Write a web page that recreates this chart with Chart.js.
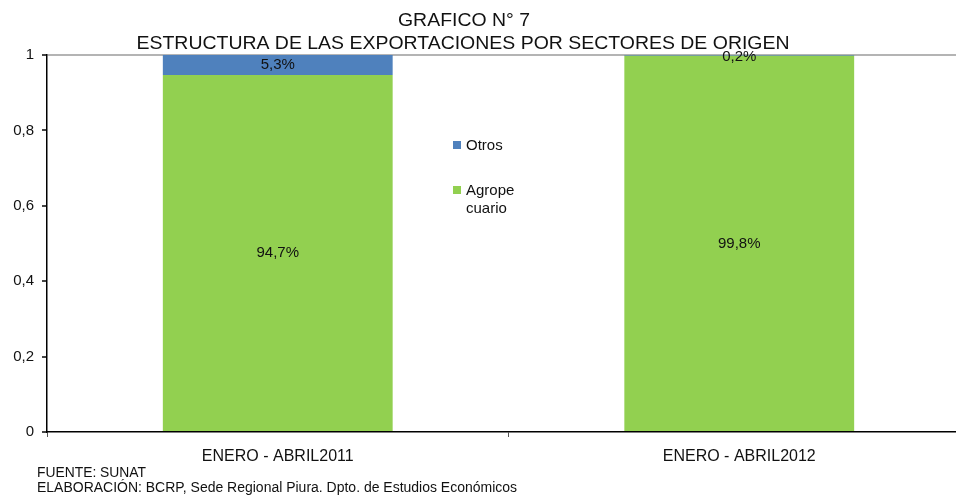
<!DOCTYPE html>
<html><head><meta charset="utf-8">
<script src="https://cdn.jsdelivr.net/npm/chart.js@4/dist/chart.umd.min.js"></script>
<style>html,body{margin:0;padding:0;background:#fff;overflow:hidden;width:956px;height:496px}#wrap{width:972px;height:496px;position:relative}</style>
</head><body><div id="wrap"><canvas id="c" width="972" height="496"></canvas></div>
<script>
const categories = ["ENERO - ABRIL2011", "ENERO - ABRIL2012"];
const agropecuario = [0.947, 0.998];
const otros = [0.053, 0.002];
const agroLabels = ["94,7%", "99,8%"];
const otrosLabels = ["5,3%", "0,2%"];
const yTicks = [0, 0.2, 0.4, 0.6, 0.8, 1];
const titleLines = ["GRAFICO N° 7", "ESTRUCTURA DE LAS EXPORTACIONES POR SECTORES DE ORIGEN"];
const footerLines = ["FUENTE: SUNAT", "ELABORACIÓN: BCRP, Sede Regional Piura. Dpto. de Estudios Económicos"];

const FONT = '"Liberation Sans", Arial, sans-serif';

function fitText(ctx, text, x, y, size, targetW, align) {
  ctx.save();
  ctx.font = size + 'px ' + FONT;
  const w = ctx.measureText(text).width;
  const s = targetW / w;
  ctx.textBaseline = 'middle';
  ctx.textAlign = 'left';
  let x0 = align === 'center' ? x - targetW / 2 : x;
  ctx.translate(x0, y);
  ctx.scale(s, 1);
  ctx.fillText(text, 0, 0);
  ctx.restore();
}

const overlay = {
  id: 'overlay',
  afterDatasetsDraw(chart) {
    const ctx = chart.ctx;
    ctx.save();
    ctx.fillStyle = '#111';
    fitText(ctx, titleLines[0], 464, 21, 18.5, 132, 'center');
    fitText(ctx, titleLines[1], 463, 44, 18.5, 653, 'center');
    fitText(ctx, footerLines[0], 37, 473, 14, 109, 'left');
    fitText(ctx, footerLines[1], 37, 488, 14, 480, 'left');
    ctx.font = '15px ' + FONT;
    ctx.textAlign = 'center';
    ctx.textBaseline = 'middle';
    ctx.fillStyle = '#111';
    const labelSets = [agroLabels, otrosLabels];
    chart.data.datasets.forEach((ds, di) => {
      const meta = chart.getDatasetMeta(di);
      meta.data.forEach((bar, i) => {
        let yc = (bar.y + bar.base) / 2;
        if (Math.abs(bar.base - bar.y) < 6) yc = bar.y + 2;
        ctx.fillText(labelSets[di][i], bar.x, yc);
      });
    });
    const entries = [
      {ds: chart.data.datasets[1], y: 146, lines: ["Otros"]},
      {ds: chart.data.datasets[0], y: 191, lines: ["Agrope", "cuario"]}
    ];
    ctx.textAlign = 'left';
    entries.forEach(e => {
      ctx.fillStyle = e.ds.backgroundColor;
      ctx.fillRect(453, e.y - 5, 8, 8);
      ctx.fillStyle = '#111';
      e.lines.forEach((t, k) => ctx.fillText(t, 466, e.y + k * 18));
    });
    ctx.restore();
  }
};

new Chart(document.getElementById('c'), {
  type: 'bar',
  data: {
    labels: categories,
    datasets: [
      {label: 'Agropecuario', data: agropecuario, backgroundColor: '#92D050', barPercentage: 1, categoryPercentage: 0.498},
      {label: 'Otros', data: otros, backgroundColor: '#4F81BD', barPercentage: 1, categoryPercentage: 0.498}
    ]
  },
  options: {
    responsive: false,
    animation: false,
    layout: {padding: {top: 55, left: 0, right: 2, bottom: 0}},
    plugins: {legend: {display: false}, title: {display: false}, tooltip: {enabled: false}},
    scales: {
      x: {
        stacked: true,
        offset: true,
        afterFit: s => { s.height = 64; },
        border: {display: true, color: '#000', width: 1.5},
        grid: {offset: true, drawOnChartArea: false, drawTicks: true, tickLength: 5, color: '#555', tickColor: '#555'},
        ticks: {padding: 10, color: '#111', font: {family: FONT, size: 16}}
      },
      y: {
        stacked: true,
        min: 0, max: 1,
        afterFit: s => { s.width = 47; },
        afterBuildTicks: s => { s.ticks = yTicks.map(v => ({value: v})); },
        border: {display: true, color: '#000', width: 1.5},
        grid: {
          drawTicks: true, tickLength: 5,
          color: c => (c.tick && c.tick.value === 1) ? '#b4b4b4' : 'rgba(0,0,0,0)',
          lineWidth: 2,
          tickColor: '#444'
        },
        ticks: {
          padding: 8, color: '#111', font: {family: FONT, size: 15},
          callback: v => String(v).replace('.', ',')
        }
      }
    }
  },
  plugins: [overlay]
});
</script></body></html>
